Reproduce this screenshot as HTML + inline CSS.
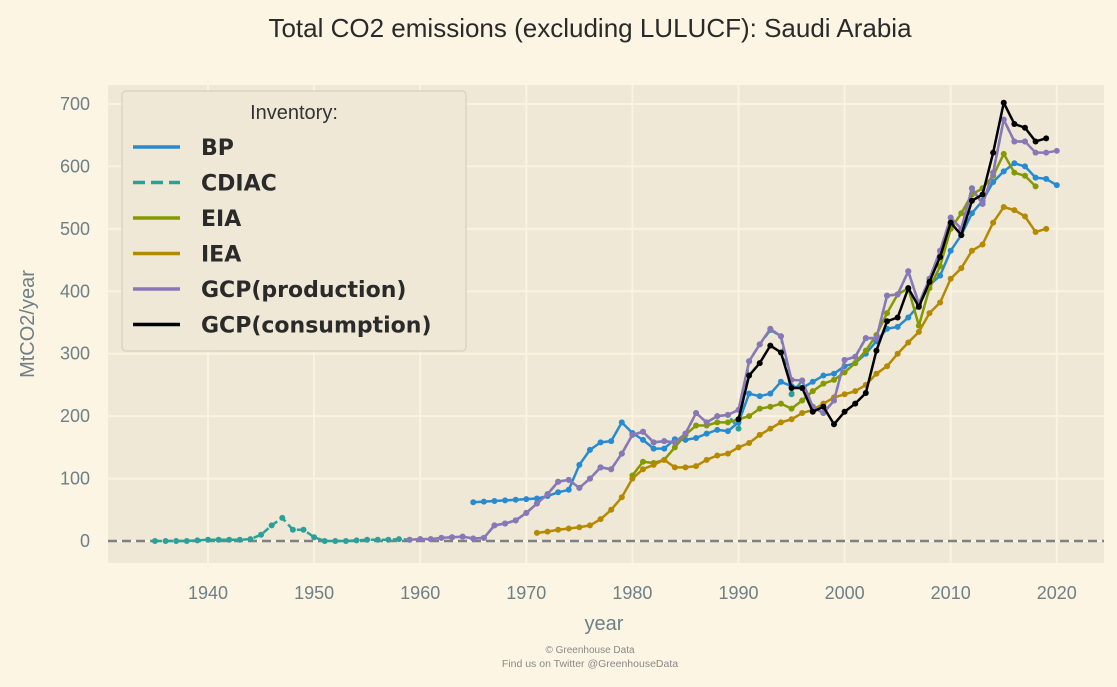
<!DOCTYPE html>
<html><head><meta charset="utf-8"><style>
body{margin:0;background:#fcf5e4;}
svg{display:block;font-family:"Liberation Sans",sans-serif;}
</style></head><body>
<svg id="chart" width="1117" height="687">
<rect width="1117" height="687" fill="#fcf5e4"/>
<text x="590" y="37" text-anchor="middle" font-size="26" fill="#2a2a2a">Total CO2 emissions (excluding LULUCF): Saudi Arabia</text>
<rect x="108" y="85" width="996" height="478" fill="#efe8d6"/>
<g id="grid"></g>
<g id="axes"></g>
<g id="series"></g>
<text x="604" y="630" text-anchor="middle" font-size="20" fill="#6e7f86">year</text>
<text transform="translate(34,324) rotate(-90)" text-anchor="middle" font-size="20" fill="#6e7f86">MtCO2/year</text>
<text x="590" y="653" text-anchor="middle" font-size="10" fill="#888">© Greenhouse Data</text>
<text x="590" y="667" text-anchor="middle" font-size="10.5" fill="#888">Find us on Twitter @GreenhouseData</text>
<g id="legend"></g>
</svg>
<script>
const xTicks=[1940,1950,1960,1970,1980,1990,2000,2010,2020];
const yTicks=[0,100,200,300,400,500,600,700];
const bpStart=1965;
const bp=[62,63,64,65,66,67,68,72,78,82,122,146,158,160,190,173,162,148,148,163,162,165,172,178,176,190,236,232,236,255,248,245,255,265,268,280,285,300,320,340,343,358,378,410,425,465,490,525,545,575,592,605,600,582,580,570];
const cdiacStart=1935;
const cdiac=[0,0,0,0,1,2,2,2,2,3,10,25,37,18,18,6,0,0,0,1,2,2,2,3,2,3,3,5,6,7,4,5,25,28,33,45,60,75,95,98,85,100,118,115,140,170,175,158,160,158,172,205,190,200,202,180,288,315,338,328,235,257,215,205,225,290,295,325,325,393,395,432,380,420,465,518,500,565,540,590,675,640,640];
const eiaStart=1980;
const eia=[105,127,125,130,150,170,185,185,190,190,195,200,212,215,220,212,225,240,252,258,270,285,305,330,365,395,405,345,405,440,500,525,555,565,585,620,590,585,568];
const ieaStart=1971;
const iea=[13,15,18,20,22,25,35,50,70,100,115,122,130,118,118,120,130,137,140,150,157,170,180,190,195,205,210,220,230,235,240,250,268,280,300,318,335,365,382,420,437,465,475,510,535,530,520,495,500];
const gcpStart=1959;
const gcp=[2,3,3,5,6,7,4,5,25,28,33,45,60,75,95,98,85,100,118,115,140,170,175,158,160,158,172,205,190,200,202,210,288,315,340,328,258,257,215,205,225,290,295,325,325,393,395,432,380,420,465,518,500,565,540,590,675,640,640,622,622,625];
const conStart=1990;
const con=[195,265,285,313,302,245,245,207,215,187,207,220,237,305,352,358,405,375,415,455,510,490,545,555,622,702,668,662,640,645];

const X=y=>208+(y-1940)*10.61;
const Y=v=>541-v*0.6243;
const NS="http://www.w3.org/2000/svg";
function mk(tag,attrs,parent){const e=document.createElementNS(NS,tag);for(const k in attrs)e.setAttribute(k,attrs[k]);parent.appendChild(e);return e;}
const grid=document.getElementById('grid'),axes=document.getElementById('axes'),ser=document.getElementById('series');
xTicks.forEach(t=>{
  const l=mk('line',{x1:X(t),x2:X(t),y1:85,y2:563,stroke:'#fbf3df','stroke-width':2},grid);
  
  
  const tx=mk('text',{x:X(t),y:599,'text-anchor':'middle','font-size':18,fill:'#6e7f86'},axes);
  tx.textContent=t;
  
  
});
yTicks.forEach(t=>{
  const l=mk('line',{x1:108,x2:1104,y1:Y(t),y2:Y(t),stroke:'#fbf3df','stroke-width':2},grid);
  
  
  const tx=mk('text',{x:90,y:Y(t)+6,'text-anchor':'end','font-size':18,fill:'#6e7f86'},axes);
  tx.textContent=t;
  
  
});
const zl=mk('line',{x1:108,x2:1104,y1:Y(0),y2:Y(0),stroke:'#808080','stroke-width':2.5,'stroke-dasharray':'9,5'},ser);


function draw(arr,start,color,name,dash,w){
  const g=mk('g',{},ser);
  
  
  const pts=arr.map((v,i)=>X(start+i)+','+Y(v)).join(' ');
  mk('polyline',{points:pts,fill:'none',stroke:color,'stroke-width':w,'stroke-dasharray':dash||'none','stroke-linejoin':'round'},g);
  arr.forEach((v,i)=>{
    const c=mk('circle',{cx:X(start+i),cy:Y(v),r:3,fill:color},g);
    
    
  });
}
draw(cdiac,cdiacStart,'#2aa198','cdiac','7,4',2.5);
draw(bp,bpStart,'#268bd2','bp',null,2.5);
draw(eia,eiaStart,'#859900','eia',null,2.5);
draw(iea,ieaStart,'#b58900','iea',null,2.5);
draw(gcp,gcpStart,'#8a77b8','gcp-production',null,2.5);
draw(con,conStart,'#000000','gcp-consumption',null,2.5);

const lg=document.getElementById('legend');
mk('rect',{x:122,y:91,width:344,height:260,rx:4,fill:'#efe8d6',stroke:'#d8d2c2','stroke-width':1.5,opacity:0.9},lg);
const lt=mk('text',{x:294,y:119,'text-anchor':'middle','font-size':20,fill:'#333'},lg);
lt.textContent='Inventory:';


const legNames=['BP','CDIAC','EIA','IEA','GCP(production)','GCP(consumption)'];
const legColors=['#268bd2','#2aa198','#859900','#b58900','#8a77b8','#000000'];
legNames.forEach((n,i)=>{
  const y=147+i*35.5;
  const g=mk('g',{},lg);
  
  
  mk('line',{x1:133,x2:180,y1:y,y2:y,stroke:legColors[i],'stroke-width':3.5,'stroke-dasharray':i==1?'12,6':'none'},g);
  const t=mk('text',{x:201,y:y+8,'font-size':22,'font-weight':'bold',fill:'#2a2a2a','font-family':'DejaVu Sans, sans-serif'},g);
  t.textContent=n;
});
</script>
</body></html>
